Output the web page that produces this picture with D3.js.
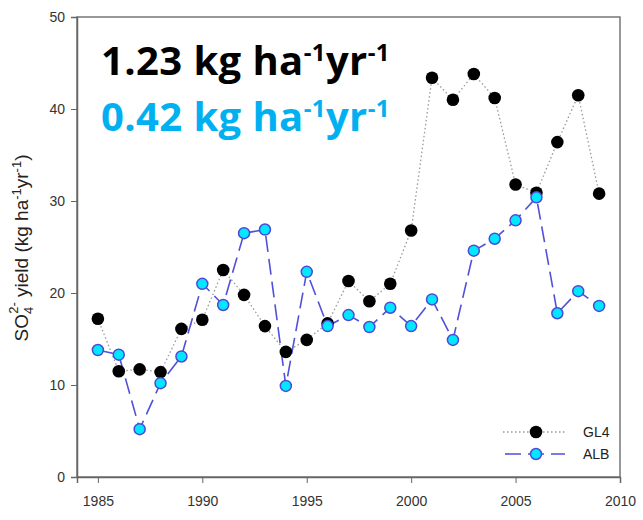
<!DOCTYPE html>
<html>
<head>
<meta charset="utf-8">
<title>SO4 yield</title>
<style>
  body { margin: 0; background: #fff; }
  svg { display: block; }
  .tick text { font-family: "Liberation Sans", Arial, sans-serif; font-size: 14px; fill: #333; }
  .tick line, .domain { stroke: #666; }
</style>
</head>
<body>
<svg id="chart" width="643" height="520"></svg>
<script src="https://cdn.jsdelivr.net/npm/d3@7"></script>
<script>
// values
const years = [1985, 1986, 1987, 1988, 1989, 1990, 1991, 1992, 1993, 1994, 1995, 1996,
               1997, 1998, 1999, 2000, 2001, 2002, 2003, 2004, 2005, 2006, 2007, 2008, 2009];
const gl4 = [17.2, 11.5, 11.7, 11.4, 16.1, 17.1, 22.5, 19.8, 16.4, 13.6, 14.9, 16.7,
             21.3, 19.1, 21.0, 26.8, 43.4, 41.0, 43.8, 41.2, 31.8, 30.9, 36.4, 41.5, 30.8];
const alb = [13.8, 13.3, 5.2, 10.2, 13.1, 21.0, 18.7, 26.5, 26.9, 9.9, 22.3, 16.4,
             17.6, 16.3, 18.4, 16.4, 19.3, 14.9, 24.6, 25.9, 27.9, 30.4, 17.8, 20.2, 18.6];
const xTicks = [1985, 1990, 1995, 2000, 2005, 2010];
const yTicks = [0, 10, 20, 30, 40, 50];

const svg = d3.select("#chart");
const plotL = 77, plotR = 620, plotT = 17, plotB = 477;

const x = d3.scaleLinear().domain([1984, 2010]).range([plotL, plotR]);
const y = d3.scaleLinear().domain([0, 50]).range([plotB, plotT]);

// frame
svg.append("rect")
  .attr("x", plotL).attr("y", plotT)
  .attr("width", plotR - plotL).attr("height", plotB - plotT)
  .attr("fill", "none").attr("stroke", "#777").attr("stroke-width", 1.5);

svg.append("g")
  .attr("transform", "translate(0," + plotB + ")")
  .call(d3.axisBottom(x).tickValues(xTicks).tickFormat(d3.format("d")).tickSize(6).tickPadding(13))
  .call(g => g.select(".domain").attr("stroke-width", 1.5));

svg.append("g")
  .attr("transform", "translate(" + plotL + ",0)")
  .call(d3.axisLeft(y).tickValues(yTicks).tickSize(6).tickPadding(6))
  .call(g => g.select(".domain").attr("stroke-width", 1.5));

const line = d3.line().x((d, i) => x(years[i])).y(d => y(d));

// GL4 - dotted grey line, black dots
svg.append("path")
  .datum(gl4)
  .attr("d", line)
  .attr("fill", "none")
  .attr("stroke", "#999")
  .attr("stroke-width", 1.3)
  .attr("stroke-dasharray", "1.5,2.5");

// ALB - long dashed blue line
svg.append("path")
  .datum(alb)
  .attr("d", line)
  .attr("fill", "none")
  .attr("stroke", "#5050d8")
  .attr("stroke-width", 1.6)
  .attr("stroke-dasharray", "16,7");

svg.selectAll(".gl4")
  .data(gl4)
  .enter().append("circle")
  .attr("class", "gl4")
  .attr("cx", (d, i) => x(years[i]))
  .attr("cy", d => y(d))
  .attr("r", 6.3)
  .attr("fill", "#000");

svg.selectAll(".alb")
  .data(alb)
  .enter().append("circle")
  .attr("class", "alb")
  .attr("cx", (d, i) => x(years[i]))
  .attr("cy", d => y(d))
  .attr("r", 5.5)
  .attr("fill", "#00e8ff")
  .attr("stroke", "#4a4ad6")
  .attr("stroke-width", 1.5);

// legend
const lg = svg.append("g").attr("font-family", "Liberation Sans, Arial, sans-serif").attr("font-size", 14);
lg.append("line").attr("x1", 503).attr("x2", 565).attr("y1", 432).attr("y2", 432)
  .attr("stroke", "#999").attr("stroke-width", 1.3).attr("stroke-dasharray", "1.5,2.5");
lg.append("circle").attr("cx", 536).attr("cy", 432).attr("r", 6.3).attr("fill", "#000");
lg.append("text").attr("x", 583).attr("y", 437).attr("fill", "#222").text("GL4");
lg.append("line").attr("x1", 505).attr("x2", 565).attr("y1", 454).attr("y2", 454)
  .attr("stroke", "#5050d8").attr("stroke-width", 1.6).attr("stroke-dasharray", "16,7");
lg.append("circle").attr("cx", 536).attr("cy", 454).attr("r", 5.5)
  .attr("fill", "#00e8ff").attr("stroke", "#4a4ad6").attr("stroke-width", 1.5);
lg.append("text").attr("x", 583).attr("y", 459).attr("fill", "#222").text("ALB");

// rate annotations
function rate(txt, yPos, color) {
  const t = svg.append("text")
    .attr("x", 101).attr("y", yPos)
    .attr("font-family", "Open Sans, sans-serif")
    .attr("font-weight", "bold")
    .attr("font-size", 40)
    .attr("letter-spacing", 0.4)
    .attr("fill", color);
  t.append("tspan").text(txt + " kg ha");
  t.append("tspan").attr("dy", -14).attr("font-size", 24).text("-1");
  t.append("tspan").attr("dy", 14).text("yr");
  t.append("tspan").attr("dy", -14).attr("font-size", 24).text("-1");
}
rate("1.23", 75, "#000");
rate("0.42", 131, "#00b0f0");

// y axis title
const yt = svg.append("text")
  .attr("transform", "translate(28,248) rotate(-90)")
  .attr("text-anchor", "middle")
  .attr("font-family", "Liberation Sans, Arial, sans-serif")
  .attr("font-size", 19)
  .attr("fill", "#222");
yt.append("tspan").text("SO");
yt.append("tspan").attr("dy", 5).attr("font-size", 13).text("4");
yt.append("tspan").attr("dx", -7).attr("dy", -15).attr("font-size", 13).text("2-");
yt.append("tspan").attr("dy", 10).text("  yield (kg ha");
yt.append("tspan").attr("dy", -7).attr("font-size", 13).text("-1");
yt.append("tspan").attr("dy", 7).text("yr");
yt.append("tspan").attr("dy", -7).attr("font-size", 13).text("-1");
yt.append("tspan").attr("dy", 7).text(")");
</script>
</body>
</html>
